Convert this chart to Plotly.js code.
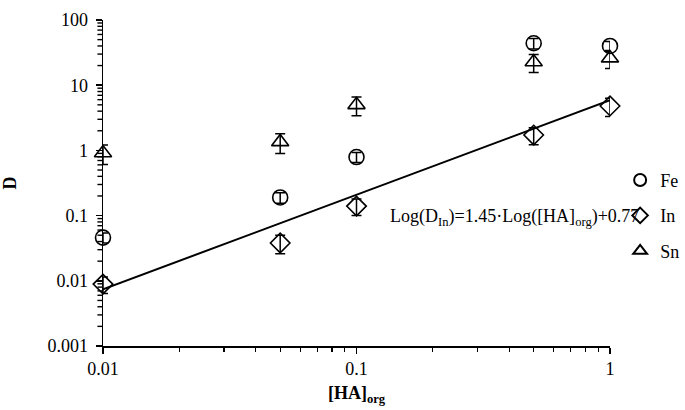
<!DOCTYPE html>
<html>
<head>
<meta charset="utf-8">
<script src="https://cdn.plot.ly/plotly-3.0.1.min.js"></script>
<style>html,body{margin:0;padding:0;background:#fff}#chart{width:685px;height:410px}</style>
</head>
<body>
<div id="chart"></div>
<script>
// Data
const haOrg = [0.01, 0.05, 0.1, 0.5, 1];
const feD = [0.046, 0.19, 0.79, 44, 40];
const feErr = [0.008, 0.035, 0.14, 8, 7];
const inD = [0.0089, 0.038, 0.14, 1.72, 4.8];
const inErr = [0.0025, 0.012, 0.04, 0.5, 1.5];
const snD = [0.91, 1.35, 5.0, 22.7, 26];
const snErr = [0.3, 0.45, 1.6, 7, 8];
const fitX = [0.01, 1];
const fitY = [0.0074, 5.9];
const equationText = 'Log(D<sub>In</sub>)=1.45·Log([HA]<sub>org</sub>)+0.77';
const yTickVals = [0.001, 0.01, 0.1, 1, 10, 100];
const yTickText = ['0.001', '0.01', '0.1', '1', '10', '100'];
const minorSteps = [2, 3, 4, 5, 6, 7, 8, 9];

const font = {family: 'Liberation Serif, Times New Roman, serif', color: '#000'};
function f(s){return Object.assign({size:s}, font);}
function errs(a){return {type:'data', array:a, visible:true, color:'#000', thickness:1.5, width:5};}
function mk(sym){return {symbol:sym, size:15, color:'#000', line:{color:'#000', width:1.6}};}

// minor tick marks of the log y axis (axis decoration at y-axis values)
const yMinorShapes = [];
yTickVals.slice(0, -1).forEach(d => minorSteps.forEach(m => yMinorShapes.push({
  type:'line', xref:'paper', yref:'y', x0:-0.011, x1:0, y0:d * m, y1:d * m,
  line:{color:'#000', width:1.4}, layer:'above'
})));

const traces = [
  {x: fitX, y: fitY, mode:'lines', line:{color:'#000', width:2}, showlegend:false, hoverinfo:'skip'},
  {x: haOrg, y: feD, name:'Fe', legendgroup:'a', mode:'markers', marker:mk('circle-open'), error_y:errs(feErr), cliponaxis:false},
  {x: haOrg, y: inD, name:'In', legendgroup:'b', mode:'markers', marker:mk('diamond-open'), error_y:errs(inErr), cliponaxis:false},
  {x: haOrg, y: snD, name:'Sn', legendgroup:'c', mode:'markers', marker:mk('triangle-up-open'), error_y:errs(snErr), cliponaxis:false}
];

const layout = {
  width:685, height:410,
  margin:{l:103, r:75, t:20, b:64, autoexpand:false},
  paper_bgcolor:'#fff', plot_bgcolor:'#fff',
  font: f(18),
  xaxis: {
    type:'log', range:[-2,0], dtick:1, showgrid:false, zeroline:false, showline:true,
    linecolor:'#000', linewidth:1.5, ticks:'outside', ticklen:6, tickwidth:1.5, tickcolor:'#000',
    tickfont:f(18),
    minor:{ticks:'outside', ticklen:4, tickwidth:1.2, tickcolor:'#000', dtick:'D1', showgrid:false},
    title:{text:'<b>[HA]<sub>org</sub></b>', font:f(18), standoff:8}
  },
  yaxis: {
    type:'log', range:[-3,2], tickmode:'array', tickvals:yTickVals, ticktext:yTickText,
    showgrid:false, zeroline:false, showline:true, linecolor:'#000', linewidth:1.5,
    ticks:'outside', ticklen:6, tickwidth:1.5, tickcolor:'#000', tickfont:f(18), ticklabelstandoff:4,
    title:{text:'<b>D</b>', font:f(18), standoff:31}
  },
  shapes: yMinorShapes,
  showlegend:true,
  legend:{x:1.02, y:0.565, xanchor:'left', yanchor:'top', traceorder:'grouped', tracegroupgap:9,
    itemsizing:'constant', font:f(18), bgcolor:'rgba(0,0,0,0)', itemwidth:30},
  annotations:[{xref:'paper', yref:'paper', x:0.562, y:0.393, xanchor:'left', yanchor:'middle',
    text:equationText, showarrow:false, font:f(18)}]
};

Plotly.newPlot('chart', traces, layout, {displayModeBar:false, staticPlot:true});
</script>
</body>
</html>
